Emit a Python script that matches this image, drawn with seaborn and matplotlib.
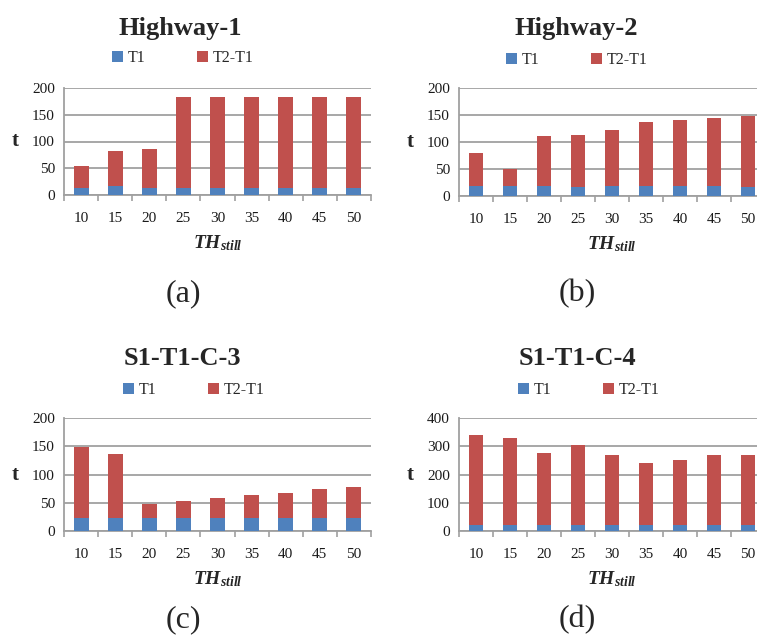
import matplotlib
matplotlib.use("Agg")
import matplotlib.pyplot as plt
from matplotlib.patches import Patch
from matplotlib.ticker import FixedLocator
import seaborn as sns

sns.set_style("white")
plt.rcParams['font.family'] = ['Liberation Serif', 'DejaVu Serif']
plt.rcParams['mathtext.fontset'] = 'custom'
plt.rcParams['mathtext.bf'] = 'Liberation Serif:style=italic:weight=bold'
plt.rcParams['mathtext.rm'] = 'Liberation Serif'
plt.rcParams['mathtext.it'] = 'Liberation Serif:style=italic'

# ---- data ----
categories = ["10", "15", "20", "25", "30", "35", "40", "45", "50"]

titles = ["Highway-1", "Highway-2", "S1-T1-C-3", "S1-T1-C-4"]
panel_labels = ["(a)", "(b)", "(c)", "(d)"]

hw1_t1 = [14, 17, 14, 14, 14, 14, 14, 14, 14]
hw1_t2_minus_t1 = [40, 65, 72, 170, 170, 170, 170, 170, 170]

hw2_t1 = [18.6, 18.6, 18.6, 16, 18.6, 18.6, 18.6, 18.6, 16]
hw2_t2_minus_t1 = [61, 31, 92.4, 97.7, 103.4, 118.4, 121.4, 126, 133]

c3_t1 = [23.5, 23.5, 23.5, 23.5, 23.5, 23.5, 23.5, 23.5, 23.5]
c3_t2_minus_t1 = [125.3, 112.4, 24.7, 29.4, 34.7, 40.6, 44.1, 50.6, 54.7]

c4_t1 = [21, 21, 21, 21, 21, 21, 21, 21, 21]
c4_t2_minus_t1 = [318, 307, 254, 282.5, 247, 219, 230, 247, 247]

ymaxes = [200, 200, 200, 400]
ysteps = [50, 50, 50, 100]

series_t1 = [hw1_t1, hw2_t1, c3_t1, c4_t1]
series_diff = [hw1_t2_minus_t1, hw2_t2_minus_t1, c3_t2_minus_t1, c4_t2_minus_t1]

legend_labels = ["T1", "T2-T1"]
BLUE = "#4F81BD"
RED = "#C0504D"
GRID = "#A0A0A0"

W, H = 757, 636
fig = plt.figure(figsize=(W / 100, H / 100), dpi=100)


def fx(px):
    return px / W


def fy(py):
    return 1 - py / H


# axes boxes in pixels: left, top, right, bottom
boxes = [(64, 88, 371, 195), (459, 88, 765, 196),
         (64, 418, 371, 531), (459, 418, 765, 531)]
title_pos = [(180, 35), (576, 35), (182, 365), (577, 365)]
legend_pos = [(112, 58), (506, 60), (123, 390), (518, 390)]
label_pos = [(183, 294), (577, 294), (183, 620), (577, 620)]

for i in range(4):
    l, t, r, b = boxes[i]
    ax = fig.add_axes([fx(l), fy(b), (r - l) / W, (b - t) / H])
    t1 = series_t1[i]
    tot = [a + d for a, d in zip(t1, series_diff[i])]
    sns.barplot(x=categories, y=tot, color=RED, saturation=1, width=0.44, ax=ax, zorder=3)
    sns.barplot(x=categories, y=t1, color=BLUE, saturation=1, width=0.44, ax=ax, zorder=4)
    for p in ax.patches:
        p.set_linewidth(0)

    ax.set_xlim(-0.5, 8.5)
    ax.set_ylim(0, ymaxes[i])
    ax.set_yticks(list(range(0, ymaxes[i] + 1, ysteps[i])))
    ax.yaxis.grid(True, color=GRID, linewidth=1.3, zorder=0)
    ax.set_axisbelow(True)
    for s in ["top", "right"]:
        ax.spines[s].set_visible(False)
    for s in ["left", "bottom"]:
        ax.spines[s].set_color(GRID)
        ax.spines[s].set_linewidth(1.3)

    ax.xaxis.set_minor_locator(FixedLocator([k - 0.5 for k in range(10)]))
    ax.tick_params(axis="x", which="major", length=0, pad=12, labelsize=11, colors="#1a1a1a")
    ax.tick_params(axis="x", which="minor", length=4, width=1.2, color=GRID, direction="out", bottom=True)
    ax.tick_params(axis="y", length=0, pad=6.5, labelsize=11, colors="#1a1a1a")

    ax.set_xlabel(r"$\mathbf{TH}_{\mathbf{still}}$", fontsize=14, labelpad=6)
    ax.set_ylabel("t", rotation=0, fontsize=15, fontweight="bold", va="center", ha="center")
    ax.yaxis.set_label_coords(-0.16, 0.5)

    tx, ty = title_pos[i]
    fig.text(fx(tx), fy(ty), titles[i], ha="center", va="baseline",
             fontsize=19, fontweight="bold")

    lx, ly = legend_pos[i]
    handles = [Patch(facecolor=BLUE, edgecolor="none"), Patch(facecolor=RED, edgecolor="none")]
    fig.legend(handles, legend_labels, ncol=2, loc="center left",
               bbox_to_anchor=(fx(lx), fy(ly)), bbox_transform=fig.transFigure,
               frameon=False, fontsize=11.5, handlelength=0.7, handleheight=0.7,
               handletextpad=0.3, columnspacing=3.2, borderpad=0, borderaxespad=0)

    px_, py_ = label_pos[i]
    fig.text(fx(px_), fy(py_), panel_labels[i], ha="center", va="center", fontsize=23)

fig.savefig("out.png", dpi=100)
